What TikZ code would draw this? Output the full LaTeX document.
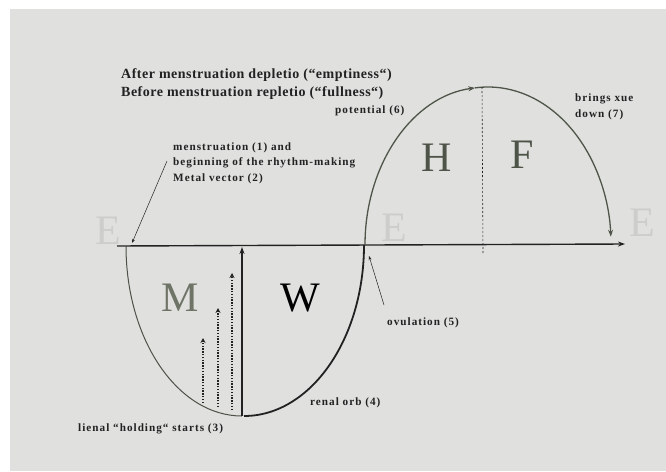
\documentclass[tikz,border=0pt]{standalone}
\usepackage{fontspec}
\setmainfont{Liberation Serif}
\newfontfamily\notefont[LetterSpace=9]{Liberation Serif}
\newfontfamily\headfont[LetterSpace=3.5]{Liberation Serif}
\usetikzlibrary{arrows.meta}
\definecolor{paper}{HTML}{E0E1DF}
\definecolor{ink}{HTML}{222222}
\definecolor{greenink}{HTML}{4E5548}
\definecolor{mgray}{HTML}{6E7466}
\definecolor{eletter}{HTML}{CDCECB}
\tikzset{
  note/.style={font=\notefont\fontsize{11.2}{15.5}\selectfont\bfseries, text=ink, inner sep=0pt, anchor=west, align=left},
  head/.style={font=\headfont\fontsize{14}{17}\selectfont\bfseries, text=ink, inner sep=0pt, anchor=west, align=left},
  big/.style={font=\fontsize{42}{42}\selectfont, inner sep=0pt},
  eletterstyle/.style={big, text=eletter},
  pointer/.style={draw=ink, line width=0.5pt, -{Stealth[length=4pt,width=3pt]}},
  dotarrow/.style={draw=ink, line width=1.6pt, dash pattern=on 1.4pt off 1.4pt, -{Stealth[length=5pt,width=5pt]}},
}
\begin{document}
\begin{tikzpicture}[x=1pt,y=-1pt]
\fill[white] (0,0) rectangle (666,471);
\fill[paper] (10,9) rectangle (666,471);
\useasboundingbox (0,0) rectangle (666,471);

% letters E
\node[eletterstyle] (e1) at (108,231) {E};
\node[eletterstyle] (e2) at (394,228) {E};
\node[eletterstyle] (e3) at (642,223) {E};

% coordinates
\coordinate (axl) at (117,246);
\coordinate (axr) at (625,244);
\coordinate (lowbot) at (242,416);
\coordinate (lowtop) at (242,247);

% axis
\draw[ink, line width=1.4pt, -{Stealth[length=7pt,width=5pt]}] (axl) -- (axr);

% lower left (M) curve
\draw[mgray!70!black, line width=1pt] (126,246) arc[start angle=180, end angle=90, x radius=116, y radius=170];
% lower right (W) curve
\draw[ink, line width=1.8pt] (244,416) arc[start angle=90, end angle=0, x radius=120, y radius=171];

% vertical solid arrow
\draw[ink, line width=1.8pt, -{Stealth[length=7pt,width=5pt]}] (lowbot) -- (lowtop);

% dotted arrows
\coordinate (d1b) at (203,403); \coordinate (d1t) at (203,338);
\coordinate (d2b) at (218,407); \coordinate (d2t) at (218,308);
\coordinate (d3b) at (232,410); \coordinate (d3t) at (232,273);
\draw[dotarrow] (d1b) -- (d1t);
\draw[dotarrow] (d2b) -- (d2t);
\draw[dotarrow] (d3b) -- (d3t);

% upper arc
\draw[greenink, line width=1.3pt, -{Stealth[length=7pt,width=5pt]}] (365,245) arc[start angle=180, end angle=264, x radius=123, y radius=158];
\draw[greenink, line width=1.3pt, -{Stealth[length=7pt,width=5pt]}] (488,245) ++(264:123 and 158) arc[start angle=264, end angle=357, x radius=123, y radius=158];

% dotted divider
\coordinate (divt) at (482,87);
\coordinate (divb) at (483,253);
\draw[ink, line width=0.6pt, dash pattern=on 2pt off 2pt] (divt) -- (divb);

% big letters
\node[big, text=mgray] (M) at (180,298) {M};
\node[big, text=black] (W) at (300,298) {W};
\node[big, text=greenink] (H) at (437,158) {H};
\node[big, text=greenink] (F) at (522,155) {F};

% heading
\node[head] (h1) at (121,75) {After menstruation depletio (“emptiness“)};
\node[head] (h2) at (121,93) {Before menstruation repletio (“fullness“)};

% notes
\node[note] (n6) at (335,111) {potential (6)};
\node[note, align=left] (n7) at (575,107) {brings xue\\down (7)};
\node[note, align=left] (n12) at (173,163) {menstruation (1) and\\beginning of the rhythm-making\\Metal vector (2)};
\node[note] (n5) at (387,323) {ovulation (5)};
\node[note] (n4) at (310,403) {renal orb (4)};
\node[note] (n3) at (78,429) {lienal “holding“ starts (3)};

% pointer arrows
\coordinate (p1s) at (167,161);
\coordinate (p1e) at (132,243);
\draw[pointer] (p1s) -- (p1e);
\coordinate (p5s) at (384,305);
\coordinate (p5e) at (369,256);
\draw[pointer] (p5s) -- (p5e);
\end{tikzpicture}
\end{document}
